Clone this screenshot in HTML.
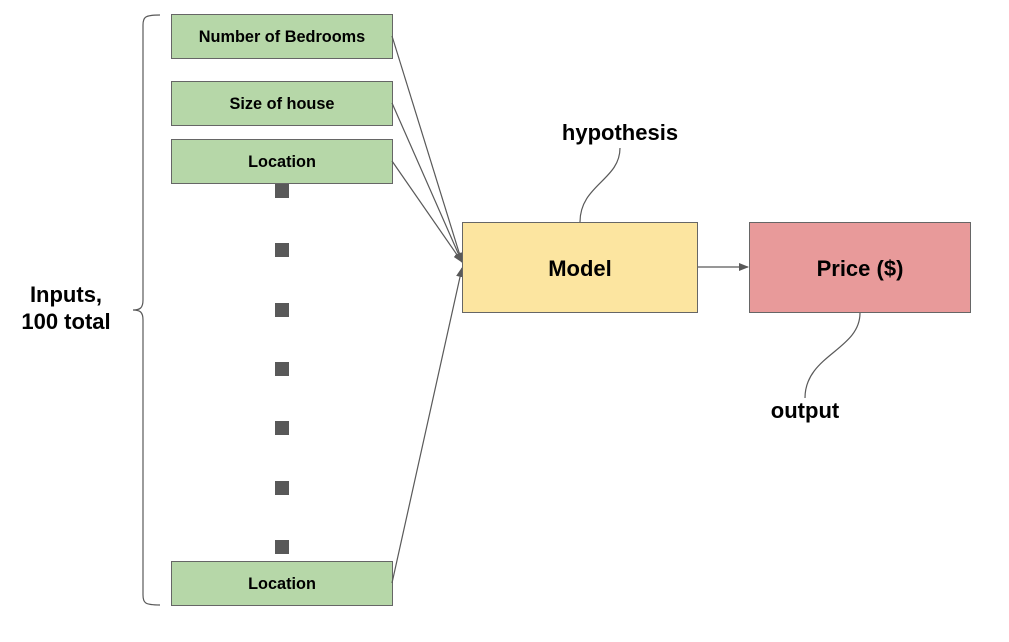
<!DOCTYPE html>
<html><head><style>
body{margin:0;background:#fff;width:1009px;height:637px;overflow:hidden;font-family:"Liberation Sans",Arial,sans-serif}
</style></head><body>
<svg width="1009" height="637" xmlns="http://www.w3.org/2000/svg" font-family="Liberation Sans, Arial, sans-serif" font-weight="bold">
<defs><marker id="a" markerWidth="10" markerHeight="8" refX="9" refY="4" orient="auto" markerUnits="userSpaceOnUse"><path d="M0,0 L10,4 L0,8 z" fill="#595959"/></marker></defs>
<g fill="#b6d7a8" stroke="#666" stroke-width="1">
<rect x="171.5" y="14.5" width="221" height="44"/>
<rect x="171.5" y="81.5" width="221" height="44"/>
<rect x="171.5" y="139.5" width="221" height="44"/>
<rect x="171.5" y="561.5" width="221" height="44"/>
</g>
<g font-size="16.3" text-anchor="middle" fill="#000">
<text x="282" y="42">Number of Bedrooms</text>
<text x="282" y="109">Size of house</text>
<text x="282" y="167">Location</text>
<text x="282" y="589">Location</text>
</g>
<g fill="#595959">
<rect x="275" y="184" width="14" height="14"/><rect x="275" y="243" width="14" height="14"/>
<rect x="275" y="303" width="14" height="14"/><rect x="275" y="362" width="14" height="14"/>
<rect x="275" y="421" width="14" height="14"/><rect x="275" y="481" width="14" height="14"/>
<rect x="275" y="540" width="14" height="14"/>
</g>
<g stroke="#595959" stroke-width="1.2" fill="none" marker-end="url(#a)">
<line x1="392" y1="36" x2="462" y2="262"/>
<line x1="392" y1="103" x2="462" y2="262"/>
<line x1="392" y1="161" x2="462" y2="262"/>
<line x1="392" y1="583" x2="462" y2="268"/>
<line x1="697" y1="267" x2="748" y2="267"/>
</g>
<rect x="462.5" y="222.5" width="235" height="90" fill="#fce5a0" stroke="#666"/>
<rect x="749.5" y="222.5" width="221" height="90" fill="#e89a9a" stroke="#666"/>
<text x="580" y="276" font-size="22" text-anchor="middle">Model</text>
<text x="860" y="276" font-size="22" text-anchor="middle">Price ($)</text>
<text x="620" y="140" font-size="22" text-anchor="middle">hypothesis</text>
<text x="805" y="418" font-size="22" text-anchor="middle">output</text>
<g stroke="#595959" stroke-width="1.2" fill="none">
<path d="M620,148 C620,180 580,185 580,222"/>
<path d="M860,313 C860,350 805,355 805,398"/>
<path d="M160,15 C145,15 143,17 143,25 L143,300 C143,308 140,310 133,310 C140,310 143,312 143,320 L143,595 C143,603 145,605 160,605"/>
</g>
<text x="66" y="302" font-size="22" text-anchor="middle">Inputs,</text>
<text x="66" y="329" font-size="22" text-anchor="middle">100 total</text>
</svg>
</body></html>
